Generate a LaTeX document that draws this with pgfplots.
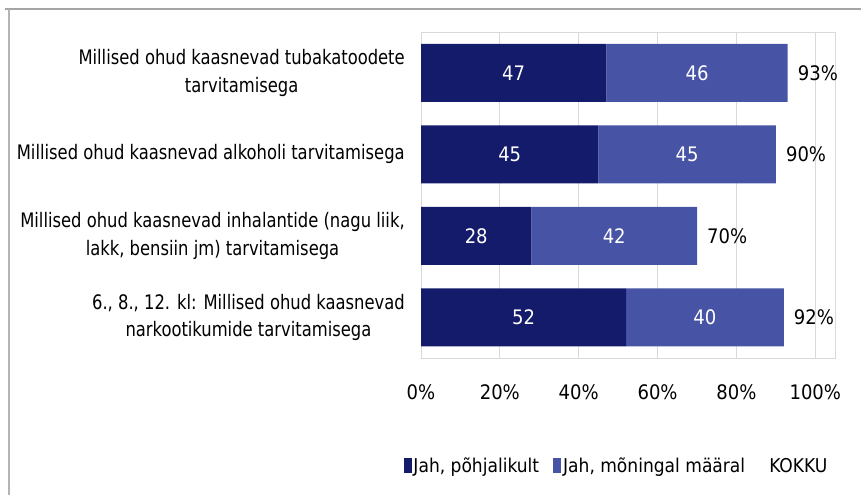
\documentclass[border=0pt]{standalone}
\usepackage{pgfplots}
\pgfplotsset{compat=1.18}
\usepackage{fontspec}
\setmainfont{DejaVu Sans Condensed}
\newfontfamily\narrowfont[FakeStretch=0.91]{DejaVu Sans Condensed}
\definecolor{darkb}{RGB}{21,27,107}
\definecolor{lightb}{RGB}{71,84,166}
\definecolor{gridc}{RGB}{217,217,217}
\begin{document}
\begin{tikzpicture}
\useasboundingbox (0,0) rectangle (861pt,495pt);
\draw[color={rgb,255:red,165;green,165;blue,165}, line width=2pt] (5pt,486pt) -- (861pt,486pt);
\draw[color={rgb,255:red,180;green,180;blue,180}, line width=2pt] (8.5pt,486pt) -- (8.5pt,0pt);
\begin{axis}[
  at={(421pt,137pt)}, anchor=south west,
  scale only axis, width=414pt, height=326pt,
  xbar stacked, bar width=58pt,
  xmin=0, xmax=105, ymin=0.5, ymax=4.5, y dir=reverse,
  axis line style={gridc, line width=0.8pt},
  xmajorgrids, grid style={gridc, line width=0.8pt},
  xtick={0,20,40,60,80,100},
  xticklabels={0\%,20\%,40\%,60\%,80\%,100\%},
  ytick={1,2,3,4},
  yticklabels={{Millised ohud kaasnevad tubakatoodete\\tarvitamisega},
               {Millised ohud kaasnevad alkoholi tarvitamisega},
               {Millised ohud kaasnevad inhalantide (nagu liik,\\lakk, bensiin jm) tarvitamisega},
               {6., 8., 12. kl: Millised ohud kaasnevad\\narkootikumide tarvitamisega}},
  tick style={draw=none},
  yticklabel style={align=center, inner sep=0pt, xshift=-16pt, font=\narrowfont\fontsize{20}{27.5}\selectfont},
  xticklabel style={inner sep=0pt, yshift=-26pt, font=\fontsize{20}{24}\selectfont},
  legend style={at={(-0.05,-0.331)}, anchor=west, draw=none, legend columns=3,
    font=\fontsize{19}{23}\selectfont,
    /tikz/every even column/.append style={column sep=12pt}},
  legend image code/.code={\fill (0pt,-7.5pt) rectangle (8pt,7.5pt);},
  segnode/.style={nodes near coords, point meta=explicit symbolic,
    every node near coord/.style={anchor=center, text=white, font=\fontsize{20}{24}\selectfont}},
]
\addplot[fill=darkb, draw=none, segnode] coordinates {(47,1)[47] (45,2)[45] (28,3)[28] (52,4)[52]};
\addlegendentry{Jah, põhjalikult}
\addplot[fill=lightb, draw=none, segnode] coordinates {(46,1)[46] (45,2)[45] (42,3)[42] (40,4)[40]};
\addlegendentry{Jah, mõningal määral}
\addplot[draw=none, fill=none, nodes near coords={\pgfplotspointmeta\%}, point meta=explicit symbolic,
  legend image code/.code={\path (0pt,-1pt) rectangle (8pt,1pt);},
  every node near coord/.style={anchor=west, inner sep=0pt, xshift=10pt, text=black, font=\fontsize{20}{24}\selectfont}]
  coordinates {(0.001,1)[93] (0.001,2)[90] (0.001,3)[70] (0.001,4)[92]};
\addlegendentry{KOKKU}
\end{axis}
\end{tikzpicture}
\end{document}
